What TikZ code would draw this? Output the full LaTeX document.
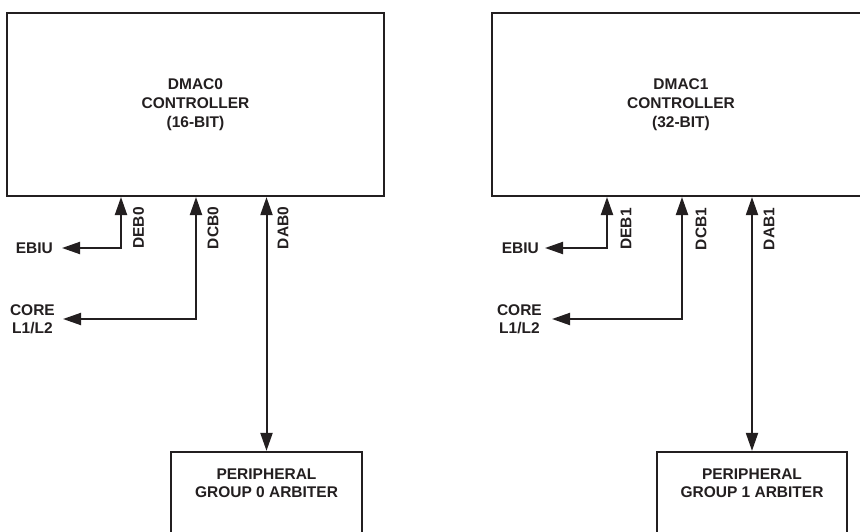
\documentclass[tikz,border=0pt]{standalone}
\usepackage{fontspec}
\setmainfont{Liberation Sans}
\usetikzlibrary{arrows.meta}
\definecolor{ink}{HTML}{231F20}
\begin{document}
\begin{tikzpicture}[x=1pt,y=-1pt,
  box/.style={draw=ink,line width=2.2pt,inner sep=0pt,align=center,
    font=\bfseries\fontsize{15.5}{19}\selectfont,text=ink},
  lbl/.style={font=\bfseries\fontsize{15.5}{18.5}\selectfont,text=ink,align=center,inner sep=0pt},
  bus/.style={draw=ink,line width=2pt,
    {Triangle[length=18pt,width=12pt]}-{Triangle[length=18pt,width=12pt]}},
]
\useasboundingbox (0,0) rectangle (860,532);
\clip (0,0) rectangle (860,532);

% ---- left subsystem ----
\node[box,minimum width=377pt,minimum height=183pt] (dmac0) at (195.5,104.5)
  {DMAC0\\CONTROLLER\\(16-BIT)};
\node[box,minimum width=191pt,minimum height=96pt] (per0) at (266.5,500) {};
\node[lbl] (per0lbl) at (266.5,483) {PERIPHERAL\\GROUP 0 ARBITER};

\node[lbl,anchor=east,inner xsep=9pt] (ebiu0) at (62,248) {EBIU};
\node[lbl,anchor=east,inner xsep=8pt] (core0) at (63,319) {CORE\\L1/L2};

\coordinate (deb0) at (121,197);
\coordinate (dcb0) at (196,197);

\draw[bus] (deb0) |- (ebiu0.east);
\draw[bus] (dcb0) |- (core0.east);
\draw[bus] (per0.north |- dmac0.south) -- (per0.north);

\node[lbl,rotate=90] (deb0lbl) at (138.5,228) {DEB0};
\node[lbl,rotate=90] (dcb0lbl) at (213,228) {DCB0};
\node[lbl,rotate=90] (dab0lbl) at (283,228) {DAB0};

% ---- right subsystem ----
\node[box,minimum width=378pt,minimum height=183pt] (dmac1) at (681,104.5)
  {DMAC1\\CONTROLLER\\(32-BIT)};
\node[box,minimum width=190pt,minimum height=96pt] (per1) at (752,500) {};
\node[lbl] (per1lbl) at (752,483) {PERIPHERAL\\GROUP 1 ARBITER};

\node[lbl,anchor=east,inner xsep=6pt] (ebiu1) at (545,248) {EBIU};
\node[lbl,anchor=east,inner xsep=10pt] (core1) at (552,319) {CORE\\L1/L2};

\coordinate (deb1) at (607,197);
\coordinate (dcb1) at (682,197);

\draw[bus] (deb1) |- (ebiu1.east);
\draw[bus] (dcb1) |- (core1.east);
\draw[bus] (per1.north |- dmac1.south) -- (per1.north);

\node[lbl,rotate=90] (deb1lbl) at (626,229) {DEB1};
\node[lbl,rotate=90] (dcb1lbl) at (701,229) {DCB1};
\node[lbl,rotate=90] (dab1lbl) at (769,229) {DAB1};
\end{tikzpicture}
\end{document}
